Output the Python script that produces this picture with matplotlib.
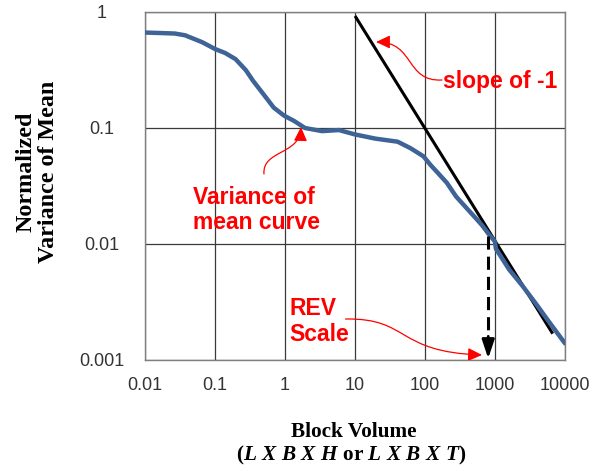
import matplotlib
matplotlib.use("Agg")
import matplotlib.pyplot as plt
from matplotlib.patches import FancyArrowPatch
from matplotlib.path import Path

plt.rcParams["mathtext.fontset"] = "custom"
plt.rcParams["mathtext.rm"] = "Liberation Serif:bold"
plt.rcParams["mathtext.it"] = "Liberation Serif:italic:bold"

# variance of mean curve
block_volume = [0.01, 0.0164, 0.0268, 0.0373, 0.0652, 0.1, 0.14, 0.197, 0.276, 0.35,
                0.491, 0.689, 0.966, 1.35, 1.93, 3.38, 5.9, 10, 19.5, 40.6,
                62, 95, 120, 150, 205, 279, 381, 474, 647, 803,
                998, 1030, 1600, 2460, 3930, 6060, 10000]
norm_variance = [0.665, 0.659, 0.652, 0.63, 0.55, 0.48, 0.443, 0.392, 0.315, 0.255,
                 0.196, 0.150, 0.128, 0.115, 0.100, 0.094, 0.096, 0.088, 0.081, 0.0762,
                 0.067, 0.057, 0.048, 0.0415, 0.0337, 0.0256, 0.0208, 0.018, 0.0146, 0.0123,
                 0.0105, 0.0091, 0.0060, 0.00437, 0.0030, 0.00209, 0.00139]

# slope of -1 reference line
slope_x = [10.3, 6500]
slope_y = [0.90, 0.00173]

# REV scale marker
rev_x = 800
rev_top = 0.0118
rev_bottom = 0.001

x_ticks = [0.01, 0.1, 1, 10, 100, 1000, 10000]
x_labels = ["0.01", "0.1", "1", "10", "100", "1000", "10000"]
y_ticks = [0.001, 0.01, 0.1, 1]
y_labels = ["0.001", "0.01", "0.1", "1"]

RED = "#FF0000"
BLUE = "#3E6497"

fig = plt.figure(figsize=(5.92, 4.71), dpi=100)
ax = fig.add_axes([145 / 592, 1 - 360 / 471, 420 / 592, 348 / 471])
ax.set_xscale("log")
ax.set_yscale("log")
ax.set_xlim(0.01, 10000)
ax.set_ylim(0.001, 1)
ax.set_xticks(x_ticks, x_labels)
ax.set_yticks(y_ticks, y_labels)
ax.minorticks_off()
ax.tick_params(axis="both", length=0, labelsize=13, labelcolor="#333333")
ax.tick_params(axis="x", pad=12)
ax.tick_params(axis="y", pad=31)
for lab in ax.get_xticklabels() + ax.get_yticklabels():
    lab.set_fontfamily("Liberation Sans")
for lab in ax.get_yticklabels():
    lab.set_horizontalalignment("center")
ax.grid(True, which="major", color="#3a3a3a", linewidth=0.9)
for sp in ax.spines.values():
    sp.set_color("#7f7f7f")
    sp.set_linewidth(1.0)

ax.plot(slope_x, slope_y, color="black", linewidth=2.2, zorder=3)
ax.plot(block_volume, norm_variance, color=BLUE, linewidth=3.2, zorder=4,
        solid_capstyle="round", solid_joinstyle="round")

# dashed REV arrow
ax.plot([rev_x, rev_x], [rev_top, rev_bottom * 1.5], color="black", linewidth=2.2,
        dashes=(4.3, 2.3), zorder=5)
ax.annotate("", xy=(rev_x, rev_bottom * 1.03), xytext=(rev_x, rev_bottom * 1.6),
            arrowprops=dict(arrowstyle="-|>,head_length=0.75,head_width=0.25",
                            color="black", lw=2.0, mutation_scale=15, shrinkA=0, shrinkB=0),
            zorder=5)

# red callouts
font_red = dict(color=RED, fontsize=16.5, fontweight="bold", family="Liberation Sans",
                transform=ax.transAxes, ha="left", va="center")
ax.text(0.7095, 0.8017, "slope of -1", **font_red)
ax.text(0.1143, 0.431, "Variance of\nmean curve", linespacing=1.1, **font_red)
ax.text(0.3429, 0.1106, "REV\nScale", linespacing=1.12, **font_red)

callouts = [
    [(0.7071, 0.8046), (0.6190, 0.7989), (0.6429, 0.9138), (0.5500, 0.9138)],
    [(0.2833, 0.5345), (0.2786, 0.6034), (0.3690, 0.5891), (0.3714, 0.6695)],
    [(0.4774, 0.1178), (0.6310, 0.1207), (0.5952, 0.0230), (0.8024, 0.0144)],
]
for pts in callouts:
    path = Path(pts, [Path.MOVETO, Path.CURVE4, Path.CURVE4, Path.CURVE4])
    arrow = FancyArrowPatch(path=path, arrowstyle="-|>,head_length=0.85,head_width=0.4",
                            mutation_scale=10, color=RED, lw=0.9,
                            transform=ax.transAxes, zorder=6)
    ax.add_patch(arrow)

# axis titles
fig.text(37 / 592, 1 - 172 / 471, "Normalized\nVariance of Mean", rotation=90,
         ha="center", va="center", multialignment="center", linespacing=1.12,
         family="Liberation Serif", fontweight="bold", fontsize=17.3)
fig.text(354 / 592, 1 - 432 / 471, "Block Volume", ha="center", va="center",
         family="Liberation Serif", fontweight="bold", fontsize=15.3)
fig.text(351 / 592, 1 - 455 / 471, r"($L\ X\ B\ X\ H$ or $L\ X\ B\ X\ T$)",
         ha="center", va="center", family="Liberation Serif", fontweight="bold",
         fontsize=15.3)

fig.savefig("out.png", dpi=100)
